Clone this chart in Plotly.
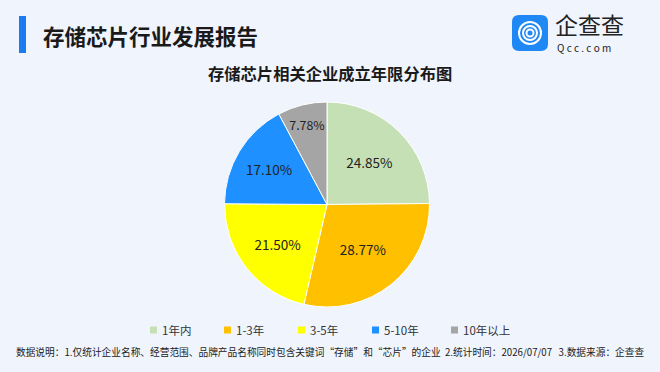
import plotly.graph_objects as go

categories = ["1年内", "1-3年", "3-5年", "5-10年", "10年以上"]
shares = [24.85, 28.77, 21.50, 17.10, 7.78]
colors = ["#c5e0b4", "#ffc000", "#ffff00", "#1e90ff", "#a5a5a6"]
legend_x = [150, 224, 298, 372, 451]  # left pixel of each legend marker

FONT = "Noto Sans CJK SC"
W, H = 660, 372

def px(x):
    return x / W

def py(y):
    return 1 - y / H

fig = go.Figure()
fig.add_trace(go.Pie(
    labels=categories,
    values=shares,
    marker=dict(colors=colors, line=dict(color="#ffffff", width=1)),
    sort=False,
    direction="clockwise",
    rotation=0,
    texttemplate="%{value:.2f}%",
    textposition="inside",
    insidetextorientation="horizontal",
    textfont=dict(family=FONT, size=13.5, color="#222222"),
    domain=dict(x=[px(224), px(430)], y=[py(307), py(102)]),
    hoverinfo="label+percent",
    showlegend=False,
))

shapes = [
    dict(type="rect", xref="paper", yref="paper",
         x0=px(19), x1=px(26), y0=py(53), y1=py(16),
         fillcolor="#1a7cf0", line=dict(width=0), layer="above"),
]
x0, x1, y0, y1, r = 512, 548, 15, 51, 7
def P(x, y):
    return f"{px(x):.5f},{py(y):.5f}"
path = (f"M {P(x0+r,y0)} L {P(x1-r,y0)} Q {P(x1,y0)} {P(x1,y0+r)} "
        f"L {P(x1,y1-r)} Q {P(x1,y1)} {P(x1-r,y1)} L {P(x0+r,y1)} "
        f"Q {P(x0,y1)} {P(x0,y1-r)} L {P(x0,y0+r)} Q {P(x0,y0)} {P(x0+r,y0)} Z")
shapes.append(dict(type="path", xref="paper", yref="paper", path=path,
                   fillcolor="#1f88f5", line=dict(width=0)))
for rr in [11, 7, 3.5]:
    cx, cy = 530, 33
    shapes.append(dict(type="circle", xref="paper", yref="paper",
                       x0=px(cx-rr), x1=px(cx+rr), y0=py(cy+rr), y1=py(cy-rr),
                       line=dict(color="#ffffff", width=2)))

annotations = [
    dict(text="<b>存储芯片行业发展报告</b>", x=px(41), y=py(35), xref="paper", yref="paper",
         xanchor="left", yanchor="middle", showarrow=False,
         font=dict(family=FONT, size=21.5, color="#1a1a1a")),
    dict(text="企查查", x=px(554), y=py(24), xref="paper", yref="paper",
         xanchor="left", yanchor="middle", showarrow=False, borderpad=0,
         font=dict(family=FONT, size=23, color="#222222")),
    dict(text="Q c c . c o m", x=px(556), y=py(47), xref="paper", yref="paper",
         xanchor="left", yanchor="middle", showarrow=False, borderpad=0,
         font=dict(family=FONT, size=10, color="#222222")),
    dict(text="<b>存储芯片相关企业成立年限分布图</b>", x=px(330), y=py(73), xref="paper", yref="paper",
         xanchor="center", yanchor="middle", showarrow=False,
         font=dict(family=FONT, size=16.3, color="#1a1a1a")),
    dict(text="数据说明：1.仅统计企业名称、经营范围、品牌产品名称同时包含关键词“存储”和“芯片”的企业  2.统计时间：2026/07/07   3.数据来源：企查查",
         x=px(330), y=py(352), xref="paper", yref="paper",
         xanchor="center", yanchor="middle", showarrow=False,
         font=dict(family=FONT, size=9.7, color="#222222")),
]

for cat, col, lx in zip(categories, colors, legend_x):
    shapes.append(dict(type="rect", xref="paper", yref="paper",
                       x0=px(lx), x1=px(lx + 7), y0=py(333.5), y1=py(326.5),
                       fillcolor=col, line=dict(width=0)))
    annotations.append(dict(text=cat, x=px(lx + 10), y=py(330), xref="paper", yref="paper",
                            xanchor="left", yanchor="middle", showarrow=False,
                            font=dict(family=FONT, size=11.5, color="#333333")))

fig.update_layout(
    width=W, height=H,
    margin=dict(l=0, r=0, t=0, b=0),
    paper_bgcolor="#f0f4fc",
    plot_bgcolor="#f0f4fc",
    showlegend=False,
    shapes=shapes,
    annotations=annotations,
)

fig.write_html("out.html")
